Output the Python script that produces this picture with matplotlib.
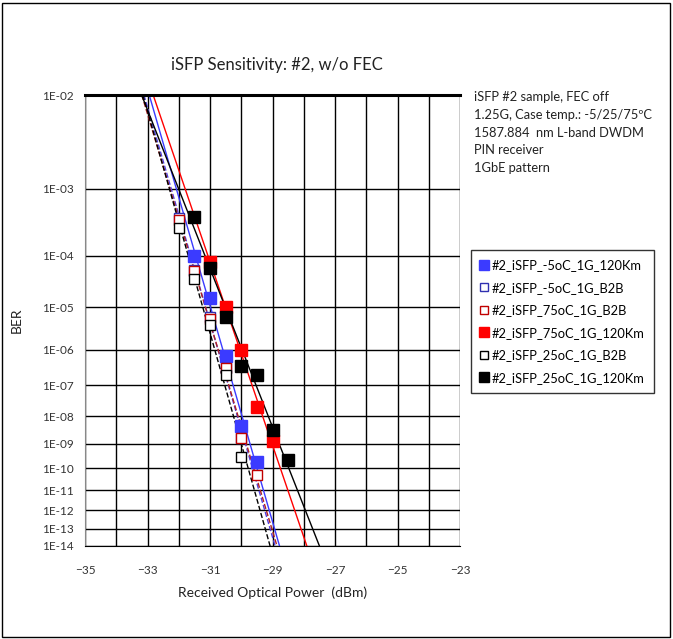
import numpy as np
import matplotlib.pyplot as plt
from matplotlib.patches import Rectangle

plt.rcParams['font.family'] = ['Lato', 'DejaVu Sans']

# Measured points: received power (dBm) and BER, one pair of lists per series
m5_120_x = [-31.5, -31.0, -30.5, -30.0, -29.5]
m5_120_ber = [1.0e-4, 1.6e-5, 7.0e-7, 4.6e-9, 1.8e-10]

m5_b2b_x = [-32.0, -31.5, -31.0, -30.5, -30.0]
m5_b2b_ber = [4.0e-4, 5.5e-5, 6.1e-6, 3.2e-7, 1.7e-9]

t75_b2b_x = [-32.0, -31.5, -31.0, -30.5, -30.0, -29.5]
t75_b2b_ber = [3.7e-4, 5.3e-5, 5.5e-6, 3.2e-7, 1.6e-9, 5.0e-11]

t75_120_x = [-31.0, -30.5, -30.0, -29.5, -29.0]
t75_120_ber = [7.8e-5, 1.0e-5, 1.0e-6, 2.0e-8, 1.25e-9]

t25_b2b_x = [-32.0, -31.5, -31.0, -30.5, -30.0]
t25_b2b_ber = [2.8e-4, 3.8e-5, 4.0e-6, 2.0e-7, 2.9e-10]

t25_120_x = [-31.5, -31.0, -30.5, -30.0, -29.5, -29.0, -28.5]
t25_120_ber = [4.1e-4, 6.0e-5, 6.0e-6, 3.6e-7, 2.0e-7, 3.3e-9, 2.2e-10]

y_ticks = [10.0 ** -k for k in range(2, 15)]
y_labels = ["1E-%02d" % k for k in range(2, 15)]
x_ticks = [-35, -33, -31, -29, -27, -25, -23]

note = ("iSFP #2 sample, FEC off\n1.25G, Case temp.: -5/25/75ºC\n"
        "1587.884  nm L-band DWDM\nPIN receiver\n1GbE pattern")


# BER axis: straight lines for log10(-log10(BER))
def fwd(b):
    with np.errstate(divide='ignore', invalid='ignore'):
        return -np.log10(-np.log10(b))


def inv(t):
    return 10.0 ** (-(10.0 ** (-t)))


series = [
    ("#2_iSFP_-5oC_1G_120Km", m5_120_x, m5_120_ber, '#3b3bff', '#3b3bff', '#3b3bff', '-'),
    ("#2_iSFP_-5oC_1G_B2B", m5_b2b_x, m5_b2b_ber, 'white', '#3030b0', '#5040e0', '--'),
    ("#2_iSFP_75oC_1G_B2B", t75_b2b_x, t75_b2b_ber, 'white', '#c00000', '#b02020', '--'),
    ("#2_iSFP_75oC_1G_120Km", t75_120_x, t75_120_ber, '#ff0000', '#ff0000', '#ff0000', '-'),
    ("#2_iSFP_25oC_1G_B2B", t25_b2b_x, t25_b2b_ber, 'white', 'black', 'black', '--'),
    ("#2_iSFP_25oC_1G_120Km", t25_120_x, t25_120_ber, 'black', 'black', 'black', '-'),
]

fig = plt.figure(figsize=(6.73, 6.39), dpi=100)
ax = fig.add_axes([85 / 673, 1 - 546 / 639, 375 / 673, 451 / 639])
ax.set_yscale('function', functions=(fwd, inv))

y_top, y_bot = 1e-2, 1e-14
for name, xs, bers, face, edge, lcol, ls in series:
    # linear trend line in the transformed space, drawn top to bottom of the plot
    u = np.log10(-np.log10(np.array(bers)))
    a, b = np.polyfit(xs, u, 1)
    u_top = np.log10(-np.log10(y_top))
    u_bot = np.log10(-np.log10(y_bot))
    x_line = [(u_top - b) / a, (u_bot - b) / a]
    ax.plot(x_line, [y_top, y_bot], color=lcol, ls=ls, lw=1, zorder=2)

for name, xs, bers, face, edge, lcol, ls in series:
    ax.plot(xs, bers, ls='none', marker='s', ms=8.5 if face != 'white' else 7.5,
            mfc=face, mec=edge, mew=1, label=name, zorder=3)

ax.set_xlim(-35, -23)
ax.set_ylim(y_bot, y_top)
ax.set_xticks(x_ticks)
ax.set_xticks(np.arange(-35, -22), minor=True)
ax.set_yticks(y_ticks)
ax.set_yticklabels(y_labels)
ax.yaxis.set_minor_locator(plt.NullLocator())
ax.grid(True, which='both', axis='x', color='black', lw=1)
ax.grid(True, which='major', axis='y', color='black', lw=1)
ax.tick_params(axis='both', which='both', length=0, labelsize=8.5, colors='#333333')
ax.tick_params(axis='x', pad=14)
ax.tick_params(axis='y', pad=8)
for side in ['top', 'right']:
    ax.spines[side].set_visible(False)
ax.spines['left'].set_color('#888888')
ax.spines['bottom'].set_color('black')
ax.axhline(y_top, color='black', lw=2.2, zorder=4, clip_on=False)

ax.set_xlabel("Received Optical Power  (dBm)", fontsize=10, color='#222222', labelpad=7)
ax.set_ylabel("BER", fontsize=10, color='#222222', labelpad=14)
fig.text(277 / 673, 1 - 65 / 639, "iSFP Sensitivity: #2, w/o FEC", ha='center', va='center',
         fontsize=12, color='#222222')
fig.text(474 / 673, 1 - 91 / 639, note, ha='left', va='top', fontsize=9.3,
         color='#222222', linespacing=1.58)

leg = ax.legend(loc='upper left', bbox_to_anchor=(471 / 673, 1 - 250 / 639),
                bbox_transform=fig.transFigure, fontsize=9.3, frameon=True,
                fancybox=False, edgecolor='black', labelspacing=0.82,
                handlelength=0.6, handletextpad=0.3, borderpad=0.7,
                borderaxespad=0, markerscale=0.85)
leg.get_frame().set_linewidth(1)

fig.patches.append(Rectangle((2 / 673, 2 / 639), 668 / 673, 634 / 639, transform=fig.transFigure,
                             fill=False, edgecolor='black', lw=1))

fig.savefig("out.png", dpi=100)
